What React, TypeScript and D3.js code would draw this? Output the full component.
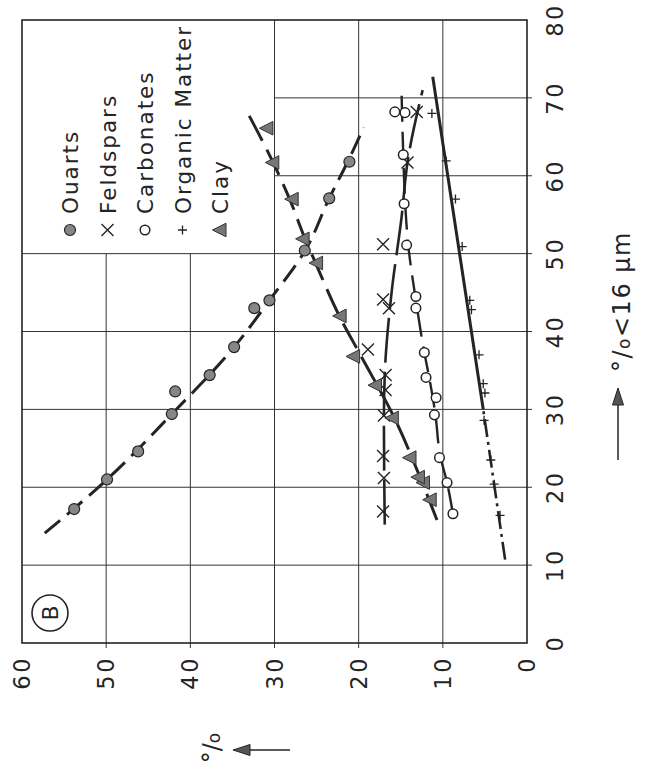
import React from 'react';
import * as d3 from 'd3';

// Fine fraction (% < 16 µm) and mineral content (%) for each sample
const quartzFine = [17.2, 21.0, 24.6, 29.4, 32.3, 34.4, 38.0, 43.0, 44.0, 50.4, 57.1, 61.8];
const quartzPct = [53.8, 49.9, 46.2, 42.2, 41.8, 37.7, 34.8, 32.4, 30.6, 26.4, 23.5, 21.1];

const feldsparFine = [16.9, 21.2, 24.0, 29.2, 32.5, 34.4, 37.7, 43.0, 44.1, 51.2, 61.7, 68.2];
const feldsparPct = [17.1, 17.0, 17.1, 17.0, 16.8, 16.8, 18.9, 16.4, 17.1, 17.1, 14.2, 13.1];

const carbonateFine = [16.6, 20.6, 23.8, 29.3, 31.5, 34.1, 37.3, 43.0, 44.5, 51.1, 56.4, 62.7, 68.1, 68.2];
const carbonatePct = [8.8, 9.5, 10.4, 11.0, 10.8, 12.0, 12.2, 13.2, 13.2, 14.3, 14.6, 14.7, 14.5, 15.7];

const organicFine = [16.4, 20.4, 23.5, 28.6, 32.1, 33.3, 37.0, 42.8, 44.0, 50.9, 57.0, 61.9, 68.0];
const organicPct = [3.2, 3.9, 4.3, 5.1, 5.0, 5.2, 5.7, 6.6, 6.8, 7.7, 8.5, 9.6, 11.3];

const clayFine = [18.4, 20.6, 21.3, 23.8, 28.9, 33.1, 36.8, 42.0, 48.8, 51.9, 57.0, 61.7, 66.1];
const clayPct = [11.5, 12.3, 12.9, 13.9, 16.0, 18.0, 20.6, 22.2, 25.0, 26.6, 27.9, 30.2, 30.9];

// Hand-fitted trend lines
const quartzTrendFine = [14.1, 21.0, 29.4, 38.0, 44.0, 50.5, 57.1, 61.8, 66.2];
const quartzTrendPct = [57.3, 49.9, 42.2, 34.8, 30.6, 26.3, 23.5, 21.3, 19.4];

const feldsparTrendFine = [15.2, 29.0, 34.5, 44.9, 54.7, 61.7, 71.0];
const feldsparTrendPct = [16.9, 17.0, 16.9, 16.1, 14.9, 14.2, 12.4];

const carbonateTrendFine = [16.6, 20.6, 24.0, 29.5, 34.0, 37.3, 44.0, 51.0, 57.0, 62.7, 70.5];
const carbonateTrendPct = [8.8, 9.5, 10.3, 10.9, 11.6, 12.2, 13.2, 14.1, 14.5, 14.7, 14.9];

const organicLowFine = [10.7, 30.0];
const organicLowPct = [2.6, 5.2];
const organicHighFine = [30.0, 72.7];
const organicHighPct = [5.2, 11.2];

const clayTrendFine = [15.8, 21.0, 29.0, 37.0, 42.0, 49.0, 52.0, 57.0, 62.0, 68.7];
const clayTrendPct = [10.7, 12.6, 15.8, 19.8, 22.3, 25.2, 26.4, 28.2, 30.3, 33.5];

const pctTicks = [0, 10, 20, 30, 40, 50, 60];
const fineTicks = [0, 10, 20, 30, 40, 50, 60, 70, 80];
const legendLabels = ['Ouarts', 'Feldspars', 'Carbonates', 'Organic Matter', 'Clay'];

const INK = '#242424';
const FONT = "'DejaVu Sans', sans-serif";

// The figure is printed turned a quarter turn: fine fraction runs upward,
// mineral percentage runs leftward.
const fScale = d3.scaleLinear().domain([0, 80]).range([643, 20]);
const pScale = d3.scaleLinear().domain([0, 60]).range([527, 22]);

const zip = (f: number[], p: number[]) => f.map((v, i) => [v, p[i]] as [number, number]);

const smooth = d3
  .line<[number, number]>()
  .x((d) => pScale(d[1]))
  .y((d) => fScale(d[0]))
  .curve(d3.curveMonotoneY);
const straight = d3
  .line<[number, number]>()
  .x((d) => pScale(d[1]))
  .y((d) => fScale(d[0]));

const crossPath = 'M-6,-6L6,6M-6,6L6,-6';
const plusPath = 'M-4.5,0H4.5M0,-4.5V4.5';
const triPath = 'M-7.5,0L6,-6.8L6,6.8Z';

function Marker({ kind, x, y }: { kind: string; x: number; y: number }) {
  const t = `translate(${x},${y})`;
  if (kind === 'quartz')
    return <circle cx={x} cy={y} r={5.5} fill="#868686" stroke={INK} strokeWidth={1.2} />;
  if (kind === 'feldspar')
    return <path transform={t} d={crossPath} fill="none" stroke={INK} strokeWidth={1.4} />;
  if (kind === 'carbonate')
    return <circle cx={x} cy={y} r={4.8} fill="#fff" stroke={INK} strokeWidth={1.5} />;
  if (kind === 'organic')
    return <path transform={t} d={plusPath} fill="none" stroke={INK} strokeWidth={1.3} />;
  return <path transform={t} d={triPath} fill="#767676" stroke="#333" strokeWidth={1} strokeLinejoin="round" />;
}

export default function App() {
  const xL = pScale(60);
  const xR = pScale(0);
  const yT = fScale(80);
  const yB = fScale(0);

  const series = [
    { kind: 'quartz', pts: zip(quartzFine, quartzPct) },
    { kind: 'feldspar', pts: zip(feldsparFine, feldsparPct) },
    { kind: 'carbonate', pts: zip(carbonateFine, carbonatePct) },
    { kind: 'organic', pts: zip(organicFine, organicPct) },
    { kind: 'clay', pts: zip(clayFine, clayPct) },
  ];
  const legendKinds = ['quartz', 'feldspar', 'carbonate', 'organic', 'clay'];

  return (
    <svg
      width={645}
      height={769}
      viewBox="0 0 645 769"
      style={{ position: 'absolute', left: 0, top: 0, background: '#fff' }}
      fontFamily={FONT}
    >
      {/* grid */}
      <g stroke="#333" strokeWidth={1} fill="none">
        {[10, 20, 30, 40, 50].map((f) => (
          <line key={'h' + f} x1={xL} x2={xR + 5} y1={fScale(f)} y2={fScale(f)} />
        ))}
        {[60, 70].map((f) => (
          <line key={'h' + f} x1={pScale(30)} x2={xR + 5} y1={fScale(f)} y2={fScale(f)} />
        ))}
        {[10, 20, 30].map((p) => (
          <line key={'v' + p} x1={pScale(p)} x2={pScale(p)} y1={yT} y2={yB + 5} />
        ))}
        {[40, 50].map((p) => (
          <line key={'v' + p} x1={pScale(p)} x2={pScale(p)} y1={fScale(50)} y2={yB + 5} />
        ))}
        <rect x={xL} y={yT} width={xR - xL} height={yB - yT} strokeWidth={1.6} stroke={INK} />
      </g>

      {/* tick labels */}
      <g fill={INK} fontSize={22.5} letterSpacing={2.5}>
        {pctTicks.map((p) => (
          <text
            key={'pt' + p}
            transform={`translate(${pScale(p) + 8},656) rotate(-90)`}
            textAnchor="end"
          >
            {p}
          </text>
        ))}
        {fineTicks.map((f) => (
          <text
            key={'ft' + f}
            transform={`translate(${563},${fScale(f)}) rotate(-90)`}
            textAnchor="middle"
          >
            {f}
          </text>
        ))}
      </g>

      {/* trend lines */}
      <g fill="none" stroke={INK} strokeLinecap="butt">
        <path d={smooth(zip(quartzTrendFine, quartzTrendPct)) || ''} strokeWidth={3} strokeDasharray="20 9" />
        <path d={smooth(zip(clayTrendFine, clayTrendPct)) || ''} strokeWidth={3} strokeDasharray="28 10" />
        <path d={smooth(zip(feldsparTrendFine, feldsparTrendPct)) || ''} strokeWidth={2.6} strokeDasharray="45 9" />
        <path d={smooth(zip(carbonateTrendFine, carbonateTrendPct)) || ''} strokeWidth={2.4} strokeDasharray="26 10" />
        <path d={straight(zip(organicLowFine, organicLowPct)) || ''} strokeWidth={2.6} strokeDasharray="18 5 3 5" />
        <path d={straight(zip(organicHighFine, organicHighPct)) || ''} strokeWidth={3} />
      </g>

      {/* samples */}
      {series.map((s) => (
        <g key={s.kind}>
          {s.pts.map((d, i) => (
            <Marker key={i} kind={s.kind} x={pScale(d[1])} y={fScale(d[0])} />
          ))}
        </g>
      ))}

      {/* legend */}
      <g fill={INK} fontSize={21.5} letterSpacing={2}>
        {legendLabels.map((lab, i) => {
          const bx = 78 + i * 37.5;
          return (
            <g key={lab}>
              <Marker kind={legendKinds[i]} x={bx - 8} y={230} />
              <text transform={`translate(${bx},214) rotate(-90)`}>{lab}</text>
            </g>
          );
        })}
      </g>

      {/* panel letter */}
      <circle cx={50} cy={613} r={18} fill="none" stroke={INK} strokeWidth={1.6} />
      <text
        transform="translate(50,613) rotate(-90)"
        textAnchor="middle"
        dominantBaseline="central"
        fontSize={22}
        fill={INK}
      >
        B
      </text>

      {/* axis titles */}
      <g fill={INK}>
        <line x1={618} x2={618} y1={460} y2={400} stroke={INK} strokeWidth={1.5} />
        <path d="M618,388L612.5,405L623.5,405Z" fill="#555" stroke={INK} strokeWidth={1} />
        <text transform="translate(630,372) rotate(-90)" fontSize={24} letterSpacing={1.5}>
          °/<tspan fontSize={17}>o</tspan>&lt;16 µm
        </text>

        <line x1={290} x2={245} y1={750} y2={750} stroke={INK} strokeWidth={1.5} />
        <path d="M233,750L250,744.5L250,755.5Z" fill="#555" stroke={INK} strokeWidth={1} />
        <text transform="translate(220,748) rotate(-90)" textAnchor="middle" fontSize={24}>
          °/<tspan fontSize={17}>o</tspan>
        </text>
      </g>
    </svg>
  );
}
